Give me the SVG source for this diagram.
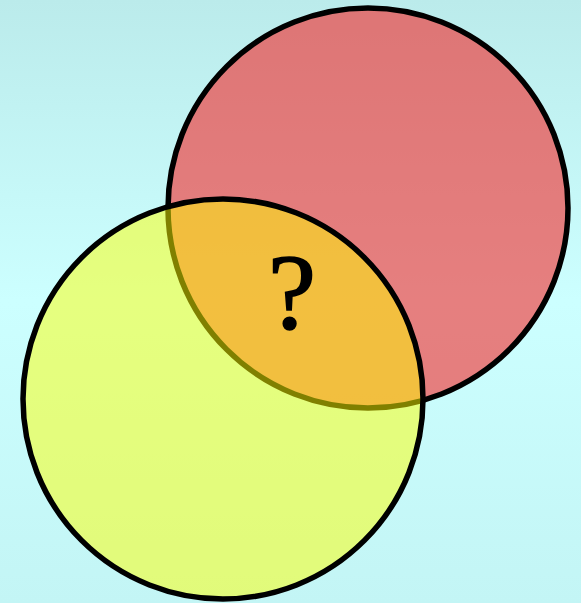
<svg xmlns="http://www.w3.org/2000/svg" width="581" height="603" viewBox="0 0 581 603">
<defs>
<linearGradient id="bg" x1="0" y1="0" x2="0" y2="1">
<stop offset="0" stop-color="#bbebeb"/>
<stop offset="0.5" stop-color="#ccffff"/>
<stop offset="1" stop-color="#c3f5f5"/>
</linearGradient>
<style>
.c{stroke:#000;stroke-width:5.5}
</style>
</defs>
<rect width="581" height="603" fill="url(#bg)"/>
<g id="red">
<circle class="c" cx="368" cy="208" r="200" fill="#ff0000" fill-opacity="0.5"/>
</g>
<g id="yellow">
<circle cx="223" cy="399" r="200" fill="#ffff00" fill-opacity="0.5" stroke="none"/>
<circle class="c" cx="223" cy="399" r="200" fill="none"/>
</g>
<g id="label">
<text x="292" y="328" font-family="Liberation Serif, serif" font-size="108" text-anchor="middle" fill="#000" stroke="#000" stroke-width="1.6">?</text>
</g>
</svg>
